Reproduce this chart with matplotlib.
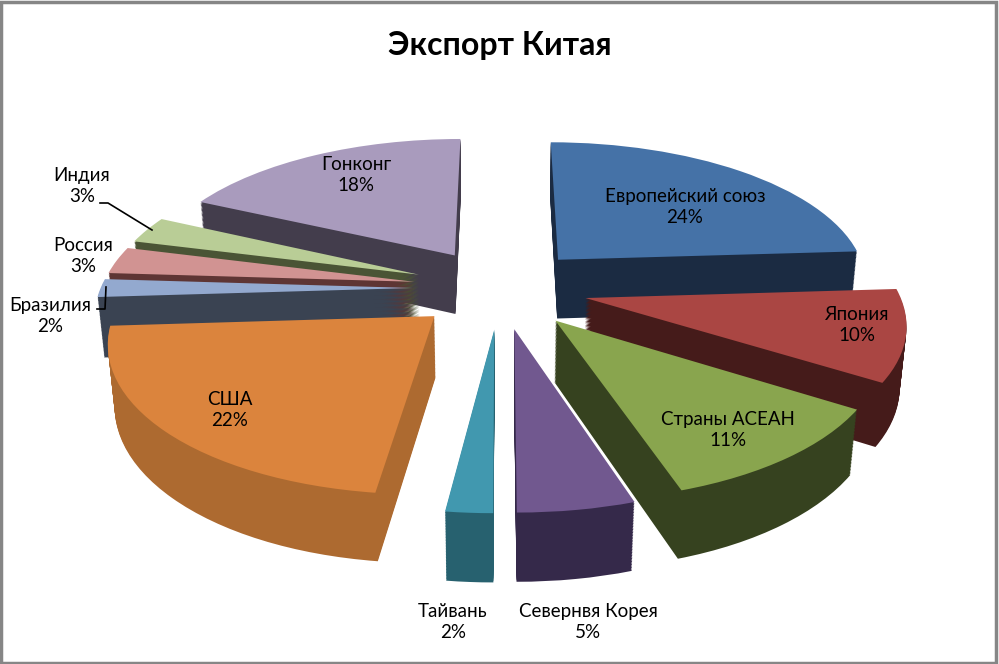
import numpy as np
import matplotlib.pyplot as plt
from matplotlib.patches import Rectangle
from matplotlib.lines import Line2D
from matplotlib.transforms import Transform

plt.rcParams['font.family'] = ['Lato', 'DejaVu Sans']

# данные
countries = ['Европейский союз', 'Япония', 'Страны АСЕАН', 'Севернвя Корея', 'Тайвань',
             'США', 'Бразилия', 'Россия', 'Индия', 'Гонконг']
shares = [24, 10, 11, 5, 2, 22, 2, 3, 3, 18]

top_colors = ['#4572A7', '#AA4643', '#89A54E', '#71588F', '#4198AF',
              '#DB843D', '#93A9CF', '#D19392', '#B9CD96', '#A99BBD']
side_colors = ['#1B2B42', '#451B1A', '#36421F', '#35294A', '#27616F',
               '#AD6A30', '#3A4352', '#5E3534', '#4A5435', '#433D4C']

# позиции подписей (пиксели)
label_pos = [(685, 207), (857, 325), (728, 430), (588, 622), (453, 622),
             (230, 410), (50, 316), (83, 256), (82, 186), (356, 175)]

W, H = 999, 664

# параметры "3D" вида
elev = np.radians(27.2)
dist = 6.0          # расстояние до камеры (в радиусах)
scale = 312         # пикселей на радиус
cx, cy = 500, 288   # центр диаграммы в пикселях
explode = 0.28
thickness = 0.22


class Perspective(Transform):
    input_dims = output_dims = 2

    def __init__(self, z):
        super().__init__()
        self.z = z

    def transform_non_affine(self, values):
        v = np.asarray(values, dtype=float)
        x, y = v[:, 0], v[:, 1]
        d = 1 + (y * np.cos(elev) - self.z * np.sin(elev)) / dist
        sx = cx + scale * x / d
        sy = (H - cy) + scale * (y * np.sin(elev) + self.z * np.cos(elev)) / d
        return np.column_stack([sx, sy])


fig = plt.figure(figsize=(W / 100, H / 100), dpi=100)
ax = fig.add_axes([0, 0, 1, 1])


def pie_layer(z, colors):
    wedges, _ = ax.pie(shares, radius=1, startangle=90, counterclock=False,
                       explode=[explode] * len(shares), colors=colors,
                       wedgeprops=dict(linewidth=0), frame=False)
    tr = Perspective(z) + ax.transData
    for w in wedges:
        w.set_transform(tr)


# объём: слои снизу вверх, потом верхняя грань
steps = 45
for k in range(steps, 0, -1):
    pie_layer(-thickness * k / steps, side_colors)
pie_layer(0, top_colors)

ax.set_aspect('auto')
ax.set_xlim(0, W)
ax.set_ylim(0, H)
ax.axis('off')

for name, val, (x, y) in zip(countries, shares, label_pos):
    fig.text(x / W, 1 - y / H, f'{name}\n{val}%', ha='center', va='center',
             fontsize=13.5, linespacing=1.3, color='black')

# выноски
fig.add_artist(Line2D([100 / W, 108 / W, 152 / W],
                      [1 - 203 / H, 1 - 203 / H, 1 - 230 / H], color='black', lw=1.2))
fig.add_artist(Line2D([97 / W, 105 / W, 106 / W],
                      [1 - 309 / H, 1 - 309 / H, 1 - 287 / H], color='black', lw=1.2))

fig.text(0.5, 1 - 45 / H, 'Экспорт Китая', ha='center', va='center',
         fontsize=23, fontweight='bold')

fig.add_artist(Rectangle((0.001, 0.002), 0.996, 0.995, transform=fig.transFigure,
                         fill=False, edgecolor='#868686', lw=2.5))

fig.savefig('out.png', dpi=100)
